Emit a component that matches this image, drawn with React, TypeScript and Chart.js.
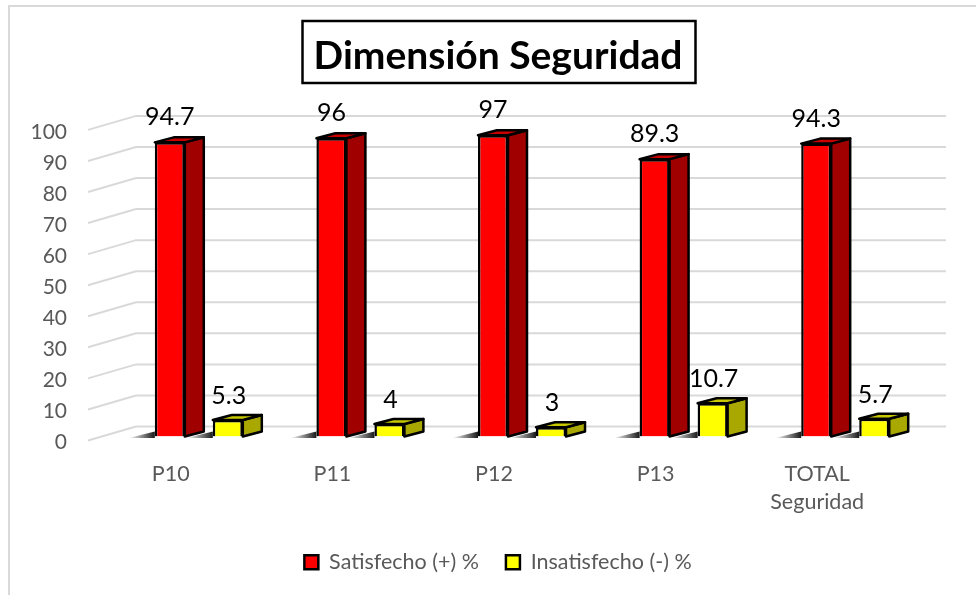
import React, { useEffect, useRef } from "react";
import { Chart, registerables } from "chart.js";

Chart.register(...registerables);

const categories: (string | string[])[] = ["P10", "P11", "P12", "P13", ["TOTAL", "Seguridad"]];
const satisfecho = [94.7, 96, 97, 89.3, 94.3];
const insatisfecho = [5.3, 4, 3, 10.7, 5.7];
const seriesNames = ["Satisfecho (+) %", "Insatisfecho (-) %"];
const titleText = "Dimensión Seguridad";
const FONT = "Lato, Carlito, sans-serif";

const DEPTH_X = 19;
const DEPTH_Y = 5;
const sideColors = ["#a00000", "#a8a800"];
const topColors = ["#c80000", "#c8c800"];

function poly(ctx: CanvasRenderingContext2D, pts: number[][], fill: string) {
  ctx.beginPath();
  pts.forEach((p, i) => (i ? ctx.lineTo(p[0], p[1]) : ctx.moveTo(p[0], p[1])));
  ctx.closePath();
  ctx.fillStyle = fill;
  ctx.fill();
  ctx.strokeStyle = "#000";
  ctx.lineWidth = 2.5;
  ctx.lineJoin = "round";
  ctx.stroke();
}

const threeD = {
  id: "threeD",
  beforeDraw(chart: any) {
    const { ctx, width, height } = chart;
    ctx.save();
    ctx.fillStyle = "#fff";
    ctx.fillRect(0, 0, width, height);
    ctx.strokeStyle = "#d9d9d9";
    ctx.lineWidth = 2;
    ctx.strokeRect(9, 6, width + 20, height + 20);
    // title frame around the title block's text
    const tb = chart.titleBlock;
    const opts = chart.options.plugins.title;
    ctx.font = `bold ${opts.font.size}px ${FONT}`;
    const w = ctx.measureText(titleText).width;
    const cx = (tb.left + tb.right) / 2;
    ctx.strokeStyle = "#000";
    ctx.lineWidth = 2.5;
    ctx.strokeRect(Math.round(cx - w / 2 - 12) + 0.5, 21, Math.round(w + 24), 62);
    ctx.restore();
  },
  beforeDatasetsDraw(chart: any) {
    const { ctx, scales, chartArea } = chart;
    const y = scales.y;
    ctx.save();
    // floor and wall grid
    ctx.strokeStyle = "#d9d9d9";
    ctx.lineWidth = 2;
    for (const t of y.ticks) {
      const py = y.getPixelForValue(t.value);
      ctx.beginPath();
      ctx.moveTo(chartArea.left - 30, py + 4);
      ctx.lineTo(chartArea.left + 18, py - 10);
      ctx.lineTo(chartArea.right + 20, py - 10);
      ctx.stroke();
    }
    // soft floor shadows
    chart.data.datasets.forEach((_: any, di: number) => {
      chart.getDatasetMeta(di).data.forEach((bar: any) => {
        const left = bar.x - bar.width / 2;
        const g = ctx.createLinearGradient(left - 26, 0, left, 0);
        g.addColorStop(0, "rgba(0,0,0,0)");
        g.addColorStop(1, "rgba(0,0,0,0.9)");
        ctx.fillStyle = g;
        ctx.beginPath();
        ctx.moveTo(left - 26, bar.base + 1.5);
        ctx.lineTo(left, bar.base - 5);
        ctx.lineTo(left, bar.base + 1.5);
        ctx.closePath();
        ctx.fill();
      });
    });
    // side and top faces
    chart.data.datasets.forEach((_: any, di: number) => {
      chart.getDatasetMeta(di).data.forEach((bar: any) => {
        const l = bar.x - bar.width / 2;
        const r = bar.x + bar.width / 2;
        const t = bar.y;
        const b = bar.base;
        poly(ctx, [[r, t], [r + DEPTH_X, t - DEPTH_Y], [r + DEPTH_X, b - DEPTH_Y], [r, b]], sideColors[di]);
        poly(ctx, [[l, t], [l + DEPTH_X, t - DEPTH_Y], [r + DEPTH_X, t - DEPTH_Y], [r, t]], topColors[di]);
      });
    });
    ctx.restore();
  },
  afterDatasetsDraw(chart: any) {
    const { ctx } = chart;
    ctx.save();
    ctx.font = `25px ${FONT}`;
    ctx.fillStyle = "#000";
    ctx.textAlign = "center";
    ctx.textBaseline = "middle";
    chart.data.datasets.forEach((ds: any, di: number) => {
      chart.getDatasetMeta(di).data.forEach((bar: any, i: number) => {
        ctx.fillText(String(ds.data[i]), bar.x + (di ? 1 : 0), bar.y - (di ? 24 : 25));
      });
    });
    ctx.restore();
  },
};

export default function App() {
  const ref = useRef<HTMLCanvasElement>(null);
  useEffect(() => {
    if (!ref.current) return;
    const chart = new Chart(ref.current, {
      type: "bar",
      data: {
        labels: categories as any,
        datasets: [
          { label: seriesNames[0], data: satisfecho, backgroundColor: "#ff0000", borderColor: "#000", borderWidth: 2.5 },
          { label: seriesNames[1], data: insatisfecho, backgroundColor: "#ffff00", borderColor: "#000", borderWidth: 2.5 },
        ],
      },
      options: {
        responsive: false,
        animation: false,
        datasets: { bar: { categoryPercentage: 0.718, barPercentage: 0.517 } },
        layout: { padding: { left: 20, right: 0, top: 0, bottom: 12 } },
        plugins: {
          title: {
            display: true,
            text: titleText,
            color: "#000",
            font: { family: FONT, size: 39, weight: "bold", lineHeight: 1.1 },
            padding: { top: 35, bottom: 48 },
          },
          legend: {
            position: "bottom",
            labels: {
              boxWidth: 14,
              boxHeight: 14,
              padding: 27,
              color: "#595959",
              font: { family: FONT, size: 21.5 },
            },
          },
          tooltip: { enabled: false },
        },
        scales: {
          x: {
            grid: { display: false, drawTicks: false },
            border: { display: false },
            afterFit(s: any) { s.height = 88; },
            ticks: {
              labelOffset: -28,
              padding: 23,
              maxRotation: 0,
              color: "#595959",
              font: { family: FONT, size: 21.5, lineHeight: 1.33 },
            },
          },
          y: {
            min: 0,
            max: 100,
            grid: { display: false, drawTicks: false },
            border: { display: false },
            afterFit(s: any) { s.width = 98; },
            ticks: {
              stepSize: 10,
              padding: 51,
              labelOffset: 6,
              color: "#595959",
              font: { family: FONT, size: 21 },
            },
          },
          yRight: {
            position: "right",
            display: true,
            grid: { display: false, drawTicks: false },
            border: { display: false },
            ticks: { display: false },
            afterFit(s: any) { s.width = 50; },
          },
        },
      } as any,
      plugins: [threeD],
    });
    return () => chart.destroy();
  }, []);
  return (
    <div style={{ position: "fixed", left: 0, top: 0 }}>
      <canvas ref={ref} width={976} height={595} style={{ display: "block" }} />
    </div>
  );
}
